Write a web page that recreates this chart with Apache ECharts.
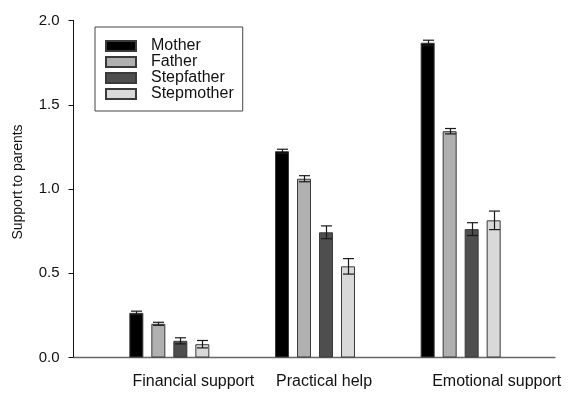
<!DOCTYPE html>
<html>
<head>
<meta charset="utf-8">
<script src="https://cdn.jsdelivr.net/npm/echarts@6/dist/echarts.min.js"></script>
<style>
  html, body { margin: 0; padding: 0; background: #fff; }
  #chart { width: 568px; height: 394px; }
</style>
</head>
<body>
<div id="chart"></div>
<script>
// Mean support given to each parent type, with standard errors
const categories = ['Financial support', 'Practical help', 'Emotional support'];
const members = ['Mother', 'Father', 'Stepfather', 'Stepmother'];

const mother = [0.265, 1.224, 1.868];
const motherErr = [0.010, 0.012, 0.015];
const father = [0.200, 1.061, 1.343];
const fatherErr = [0.009, 0.018, 0.016];
const stepfather = [0.099, 0.743, 0.762];
const stepfatherErr = [0.018, 0.038, 0.038];
const stepmother = [0.079, 0.541, 0.814];
const stepmotherErr = [0.022, 0.046, 0.055];

const yMin = 0, yMax = 2, yStep = 0.5;

// Styling / layout
const FONT = "'Liberation Sans', Arial, Helvetica, sans-serif";
const fills = ['#000000', '#b0b0b0', '#4e4e4e', '#d9d9d9'];
const BAR_W = 14;
const BAR_GAP = 8;
const CAP_W = 11;
const labelShift = [24, 9, 36];

const values = [mother, father, stepfather, stepmother];
const errors = [motherErr, fatherErr, stepfatherErr, stepmotherErr];

const gridTop = 20.5, gridBottom = 36.5;

function errorRenderer(offset) {
  return function (params, api) {
    const i = api.value(0);
    const v = api.value(1);
    const e = api.value(2);
    const hi = api.coord([i, v + e]);
    const lo = api.coord([i, v - e]);
    const x = Math.round(hi[0] + offset) + 0.5;
    const style = { stroke: '#1a1a1a', lineWidth: 1.2 };
    return {
      type: 'group',
      children: [
        { type: 'line', shape: { x1: x, y1: hi[1], x2: x, y2: lo[1] }, style },
        { type: 'line', shape: { x1: x - CAP_W / 2, y1: hi[1], x2: x + CAP_W / 2, y2: hi[1] }, style },
        { type: 'line', shape: { x1: x - CAP_W / 2, y1: lo[1], x2: x + CAP_W / 2, y2: lo[1] }, style }
      ]
    };
  };
}

const barSeries = members.map((name, k) => ({
  name,
  type: 'bar',
  xAxisIndex: 0,
  yAxisIndex: 0,
  barWidth: BAR_W,
  barGap: (BAR_GAP / BAR_W * 100) + '%',
  data: values[k],
  itemStyle: { color: fills[k], borderColor: '#3a3a3a', borderWidth: 1 },
  emphasis: { disabled: true },
  z: 2
}));

const errSeries = members.map((name, k) => ({
  name: name + ' SE',
  type: 'custom',
  xAxisIndex: 0,
  yAxisIndex: 0,
  renderItem: errorRenderer((k - 1.5) * (BAR_W + BAR_GAP)),
  data: categories.map((c, i) => [i, values[k][i], errors[k][i]]),
  encode: { x: 0, y: 1 },
  z: 5,
  silent: true
}));

const richShift = {};
labelShift.forEach((s, i) => {
  richShift['c' + i] = { fontFamily: FONT, fontSize: 16, color: '#111', padding: [0, 0, 0, 2 * s] };
});

const chart = echarts.init(document.getElementById('chart'), null, { renderer: 'canvas' });
chart.setOption({
  animation: false,
  backgroundColor: '#fff',
  textStyle: { fontFamily: FONT },
  grid: [
    { left: 96.5, right: 34.5, top: gridTop, bottom: gridBottom },
    { left: 73.5, right: 13, top: gridTop, bottom: gridBottom }
  ],
  legend: {
    data: members.map(name => ({ name, icon: 'rect' })),
    orient: 'vertical',
    left: 95,
    top: 27,
    padding: [11, 9, 9, 10],
    itemWidth: 30,
    itemHeight: 10,
    itemGap: 0,
    backgroundColor: '#fff',
    borderColor: '#444',
    borderWidth: 1,
    borderRadius: 0,
    selectedMode: false,
    textStyle: { fontFamily: FONT, fontSize: 16, color: '#111', lineHeight: 14, padding: [0, 0, 0, 10] }
  },
  xAxis: [
    {
      type: 'category',
      gridIndex: 0,
      data: categories,
      axisLine: { show: false },
      axisTick: { show: false },
      axisLabel: {
        interval: 0,
        hideOverlap: false,
        margin: 16,
        formatter: (v, i) => '{c' + i + '|' + v + '}',
        rich: richShift
      }
    },
    {
      type: 'value',
      gridIndex: 1,
      min: 0,
      max: 1,
      axisLine: { show: true, onZero: false, lineStyle: { color: '#666', width: 1.3 } },
      axisTick: { show: false },
      axisLabel: { show: false },
      splitLine: { show: false }
    }
  ],
  yAxis: [
    {
      type: 'value',
      gridIndex: 0,
      min: yMin,
      max: yMax,
      interval: yStep,
      offset: 23,
      name: 'Support to parents',
      nameLocation: 'middle',
      nameGap: 48,
      nameTextStyle: { fontFamily: FONT, fontSize: 14, color: '#111', padding: [0, 0, 0, 14] },
      axisLine: { show: true, lineStyle: { color: '#111', width: 1 } },
      axisTick: { show: true, inside: false, length: 5, lineStyle: { color: '#111' } },
      axisLabel: {
        fontFamily: FONT, fontSize: 15, color: '#111', margin: 14,
        formatter: v => v.toFixed(1)
      },
      splitLine: { show: false }
    },
    {
      type: 'value',
      gridIndex: 1,
      min: 0,
      max: 1,
      show: false
    }
  ],
  series: barSeries.concat(errSeries)
});
</script>
</body>
</html>
